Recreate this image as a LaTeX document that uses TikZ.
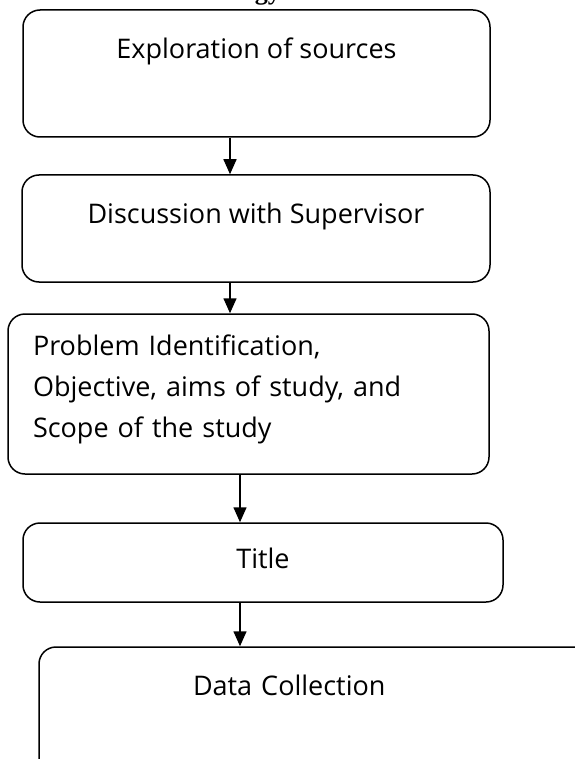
\documentclass[tikz,border=0pt]{standalone}
\usepackage{fontspec}
\setmainfont{Open Sans}
\newfontfamily\headfont{Liberation Serif}
\usetikzlibrary{arrows.meta,positioning}

\begin{document}
\begin{tikzpicture}[x=1pt,y=-1pt,
    stage/.style={draw, line width=1.5pt, rounded corners=17pt, inner sep=0pt,
        font=\fontsize{27}{41}\selectfont},
    flow/.style={line width=1.5pt, -{Triangle[length=15pt,width=13pt]}}]
    \useasboundingbox (0,0) rectangle (574,759);

    % Heading, cut by the top edge
    \node[anchor=base east, inner sep=0pt, font=\headfont\bfseries\fontsize{26}{26}\selectfont] (head) at (281,-0.3) {Methodology};

    % Stages
    \node[stage, anchor=base, minimum width=467pt, text height=49pt, text depth=78pt] (explore) at (256.5,59) {Exploration of sources};
    \node[stage, anchor=base, minimum width=468pt, text height=48pt, text depth=59pt] (discuss) at (256,223) {Discussion with Supervisor};
    \node[stage, anchor=base, minimum width=481pt, text width=431pt, align=left, text height=41pt, text depth=119pt] (problem) at (248.5,355)
        {Problem Identification,\\Objective, aims of study, and\\Scope of the study};
    \node[stage, anchor=base, minimum width=480pt, text height=45pt, text depth=34pt] (title) at (263,568) {Title};
    \node[stage, anchor=base, minimum width=553pt, text width=245pt, align=left, text height=48pt, text depth=80pt] (data) at (315.5,695) {Data Collection};

    % Flow
    \coordinate (colA) at (230,0);
    \coordinate (colB) at (240,0);
    \draw[flow] (explore.south -| colA) -- (discuss.north -| colA);
    \draw[flow] (discuss.south -| colA) -- (problem.north -| colA);
    \draw[flow] (problem.south -| colB) -- (title.north -| colB);
    \draw[flow] (title.south -| colB) -- (data.north -| colB);
\end{tikzpicture}
\end{document}
